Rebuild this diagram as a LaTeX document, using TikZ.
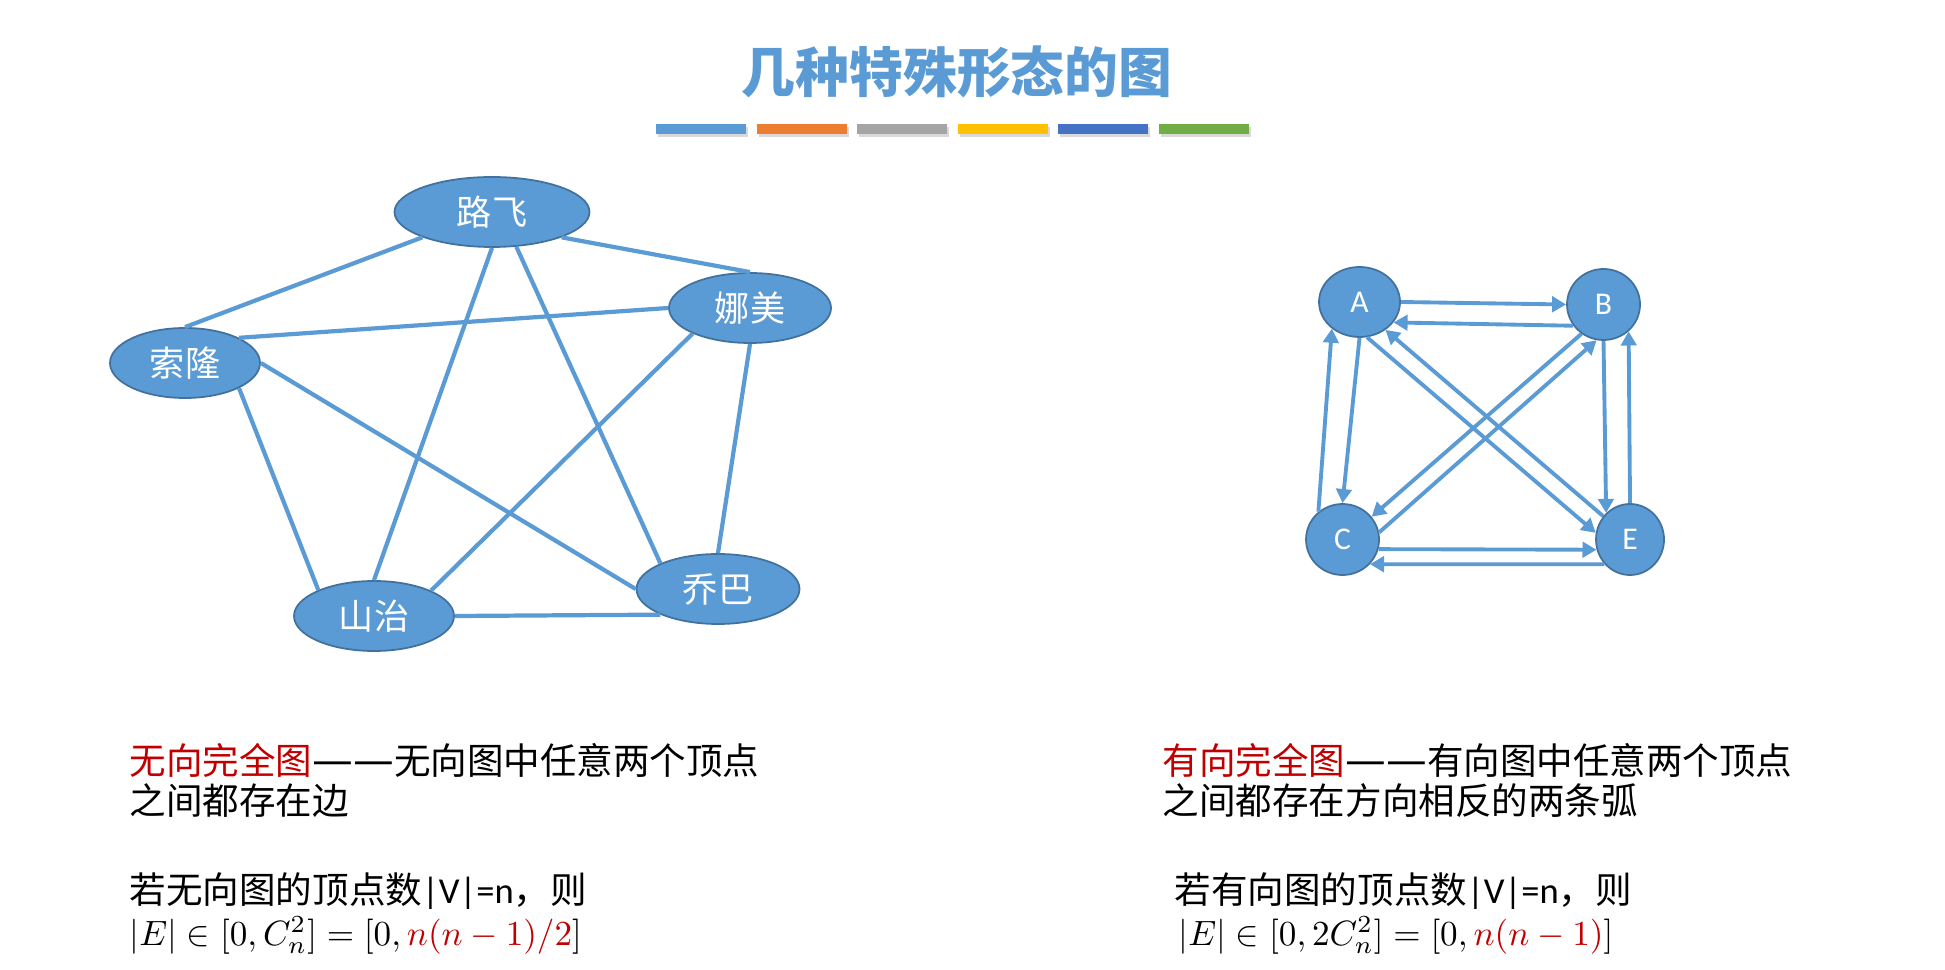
\documentclass[tikz,border=0pt]{standalone}
\usepackage{fontspec}
\setmainfont{Carlito}
\newfontfamily\cjk{Noto Sans CJK SC}
\newfontfamily\dashfont{DejaVu Sans}
\usetikzlibrary{positioning,arrows.meta,shapes.geometric}
\definecolor{nodeblue}{HTML}{5B9BD5}
\definecolor{nodeedge}{HTML}{41719C}
\definecolor{darkred}{HTML}{C00000}
\definecolor{barorange}{HTML}{ED7D31}
\definecolor{bargray}{HTML}{A5A5A5}
\definecolor{baryellow}{HTML}{FFC000}
\definecolor{barblue}{HTML}{4472C4}
\definecolor{bargreen}{HTML}{70AD47}
\newcommand{\longdash}{{\dashfont\fontsize{11.6}{12}\selectfont ——}}

\begin{document}
\begin{tikzpicture}[x=0.1mm, y=-0.1mm,
	vert/.style={draw=nodeedge, fill=nodeblue, ellipse, line width=0.5pt, minimum height=7mm, inner sep=0pt, text=white, font=\cjk\fontsize{10}{12}\selectfont},
	letter/.style={vert, font=\fontsize{9}{11}\selectfont},
	link/.style={draw=nodeblue, line width=1.2pt},
	arrowline/.style={draw=nodeblue, line width=1.1pt, -{Triangle[length=4pt,width=4.4pt]}},
	textline/.style={anchor=base west, inner sep=0pt, font=\cjk\fontsize{10.4}{12}\selectfont}]
	\useasboundingbox (0,0) rectangle (1945,970);

	\node[font=\cjk\bfseries\fontsize{15.3}{18}\selectfont, text=nodeblue] (title) at (957,72) {几种特殊形态的图};
	\foreach \c [count=\i from 0] in {nodeblue,barorange,bargray,baryellow,barblue,bargreen}
	{
		\fill[black!15] (658+\i*100.6,127) rectangle ++(90,10);
		\fill[\c] (656+\i*100.6,124) rectangle ++(90,10);
	}

	\node[vert, minimum width=19.5mm] (lufei) at (492,212) {路飞};
	\node[vert, minimum width=16.2mm] (namei) at (750,308) {娜美};
	\node[vert, minimum width=15mm] (suolong) at (185,363) {索隆};
	\node[vert, minimum width=16mm] (shanzhi) at (374,616) {山治};
	\node[vert, minimum width=16.3mm] (qiaoba) at (718,589) {乔巴};
	\draw[link] (lufei.200) -- (suolong.north);
	\draw[link] (lufei.340) -- (namei.north);
	\draw[link] (lufei.south) -- (shanzhi.north);
	\draw[link] (lufei.305) -- (qiaoba.156);
	\draw[link] (namei.west) -- (suolong.25);
	\draw[link] (namei.204) -- (shanzhi.24);
	\draw[link] (namei.south) -- (qiaoba.north);
	\draw[link] (suolong.335) -- (shanzhi.155);
	\draw[link] (suolong.east) -- (qiaoba.west);
	\draw[link] (shanzhi.east) -- (qiaoba.204);

	\node[letter, minimum width=8.1mm] (A) at (1359.5,302) {A};
	\node[letter, minimum width=7.3mm, minimum height=7.1mm] (B) at (1603.5,304.5) {B};
	\node[letter, minimum width=7.3mm, minimum height=7.1mm] (C) at (1342.5,539.5) {C};
	\node[letter, minimum width=6.8mm, minimum height=7.1mm] (E) at (1630,539.5) {E};
	\draw[arrowline] (A.0) -- (B.180);
	\draw[arrowline] (B.215) -- (A.329);
	\draw[arrowline] (A.south) -- (C.north);
	\draw[arrowline] (C.131) -- (A.224);
	\draw[arrowline] (A.282) -- (E.169);
	\draw[arrowline] (E.139) -- (A.313);
	\draw[arrowline] (B.233) -- (C.38);
	\draw[arrowline] (C.11) -- (B.259);
	\draw[arrowline] (B.south) -- (E.132);
	\draw[arrowline] (E.north) -- (B.313);
	\draw[arrowline] (C.345) -- (E.197);
	\draw[arrowline] (E.224) -- (C.318);

	\node[textline] (ul1) at (129,774) {\textcolor{darkred}{无向完全图}\longdash 无向图中任意两个顶点};
	\node[textline] (ul2) at (129,814) {之间都存在边};
	\node[textline] (ul3) at (129,903) {若无向图的顶点数{\rmfamily|V|=n}，则};
	\node[textline] (ul4) at (129,945) {$|E| \in [0, C_n^2] = [0, \textcolor{darkred}{n(n-1)/2}]$};
	\node[textline] (dl1) at (1162,774) {\textcolor{darkred}{有向完全图}\longdash 有向图中任意两个顶点};
	\node[textline] (dl2) at (1162,814) {之间都存在方向相反的两条弧};
	\node[textline] (dl3) at (1174,903) {若有向图的顶点数{\rmfamily|V|=n}，则};
	\node[textline] (dl4) at (1178,945) {$|E| \in [0, 2C_n^2] = [0, \textcolor{darkred}{n(n-1)}]$};
\end{tikzpicture}
\end{document}
